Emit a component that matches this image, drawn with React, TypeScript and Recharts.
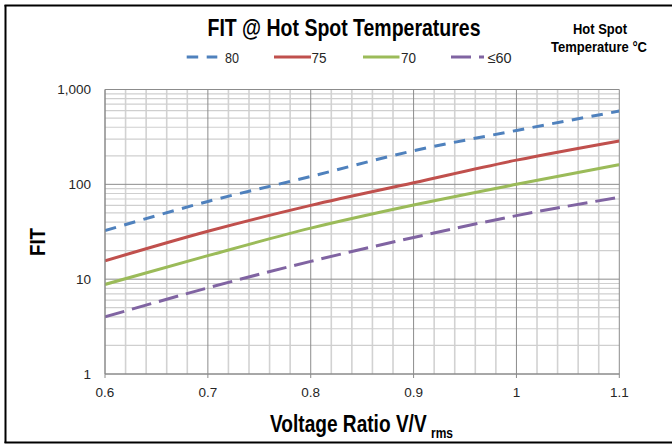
import React from 'react';
import { LineChart, Line, XAxis, YAxis, ReferenceLine } from 'recharts';

// Voltage ratio V/Vrms (x) and FIT values
const voltageRatio = [0.6, 0.7, 0.8, 0.9, 1.0, 1.1];
const fit80 = [32.5, 66, 121, 226, 370, 592];
const fit75 = [15.6, 32, 60, 104, 180, 287];
const fit70 = [8.8, 17.7, 34.5, 60.5, 100, 161];
const fit60 = [4.0, 8.1, 15.4, 27.5, 46.8, 73];

const xTicks = [0.6, 0.7, 0.8, 0.9, 1.0, 1.1];
const xMinorGrid = [0.62, 0.64, 0.66, 0.68, 0.72, 0.74, 0.76, 0.78, 0.82, 0.84, 0.86, 0.88, 0.92, 0.94, 0.96, 0.98, 1.02, 1.04, 1.06, 1.08];
const yTicks = [1, 10, 100, 1000];
const yMinorGrid = [2, 3, 4, 5, 6, 7, 8, 9, 20, 30, 40, 50, 60, 70, 80, 90, 200, 300, 400, 500, 600, 700, 800, 900];

const seriesNames = ['80', '75', '70', '≤60'];
const seriesKeys = ['t80', 't75', 't70', 't60'];
const seriesColors = ['#4f81bd', '#c0504d', '#9bbb59', '#8064a2'];
const seriesDash = ['11.5 8.5', undefined, undefined, '20 8'];

const data = voltageRatio.map((v, i) => ({
  v,
  t80: fit80[i],
  t75: fit75[i],
  t70: fit70[i],
  t60: fit60[i],
}));

const FONT = '"Liberation Sans", Arial, sans-serif';

const fmtY = (n: number) => n.toLocaleString('en-US');
const fmtX = (n: number) => String(n);

const legendPos = [
  { line: [186.7, 217.3], text: 225, w: 14 },
  { line: [274, 311], text: 311.5, w: 15 },
  { line: [363, 399.5], text: 401, w: 15 },
  { line: [451, 484], text: 487.5, w: 24 },
];

export default function App() {
  return (
    <div style={{ position: 'fixed', left: 0, top: 0, width: 672, height: 445, background: '#fff' }}>
      <LineChart
        width={672}
        height={445}
        data={data}
        margin={{ top: 89.5, right: 52.7, bottom: 41, left: 45 }}
      >
        <XAxis
          dataKey="v"
          type="number"
          domain={[0.6, 1.1]}
          ticks={xTicks}
          tickFormatter={fmtX}
          height={30}
          axisLine={{ stroke: '#8a8a8a' }}
          tickLine={{ stroke: '#8a8a8a' }}
          tickSize={4}
          tickMargin={9}
          tick={{ fill: '#262626', fontSize: 13.5, fontFamily: FONT }}
          allowDataOverflow
        />
        <YAxis
          type="number"
          scale="log"
          domain={[1, 1000]}
          ticks={yTicks}
          tickFormatter={fmtY}
          width={60}
          axisLine={{ stroke: '#8a8a8a' }}
          tickLine={false}
          tickSize={4}
          tickMargin={10}
          tick={{ fill: '#262626', fontSize: 13.5, fontFamily: FONT }}
          allowDataOverflow
        />
        {xMinorGrid.map((x) => (
          <ReferenceLine key={'mx' + x} x={x} stroke="#d2d2d2" strokeWidth={1.6} />
        ))}
        {yMinorGrid.map((y) => (
          <ReferenceLine key={'my' + y} y={y} stroke="#cfcfcf" strokeWidth={1.2} />
        ))}
        {xTicks.map((x) => (
          <ReferenceLine key={'Mx' + x} x={x} stroke="#8c8c8c" strokeWidth={1} />
        ))}
        {yTicks.map((y) => (
          <ReferenceLine key={'My' + y} y={y} stroke="#8c8c8c" strokeWidth={1} />
        ))}
        {seriesKeys.map((k, i) => (
          <Line
            key={k}
            dataKey={k}
            name={seriesNames[i]}
            type="monotone"
            stroke={seriesColors[i]}
            strokeWidth={3}
            strokeDasharray={seriesDash[i]}
            dot={false}
            activeDot={false}
            isAnimationActive={false}
          />
        ))}
      </LineChart>
      <svg
        width={672}
        height={445}
        style={{ position: 'absolute', left: 0, top: 0, pointerEvents: 'none' }}
      >
        <line x1={5.5} y1={5} x2={5.5} y2={443} stroke="#000" strokeWidth={2} />
        <line x1={4.5} y1={5.5} x2={672} y2={5.5} stroke="#000" strokeWidth={2} />
        <line x1={4.5} y1={442.5} x2={672} y2={442.5} stroke="#000" strokeWidth={2} />
        <text transform="translate(207.5,36) scale(1,1.2)" x={0} y={0} fontFamily={FONT} fontWeight="bold" fontSize={19.5} fill="#000">
          FIT @ Hot Spot Temperatures
        </text>
        <text transform="translate(573,34) scale(1,1.2)" x={0} y={0} textLength={54} lengthAdjust="spacingAndGlyphs" fontFamily={FONT} fontWeight="bold" fontSize={12.5} fill="#000">
          Hot Spot
        </text>
        <text transform="translate(551,52) scale(1,1.2)" x={0} y={0} textLength={96} lengthAdjust="spacingAndGlyphs" fontFamily={FONT} fontWeight="bold" fontSize={12.8} fill="#000">
          Temperature °C
        </text>
        {seriesNames.map((n, i) => (
          <g key={n}>
            <line
              x1={legendPos[i].line[0]}
              y1={57}
              x2={legendPos[i].line[1]}
              y2={57}
              stroke={seriesColors[i]}
              strokeWidth={3}
              strokeDasharray={seriesDash[i]}
            />
            <text x={legendPos[i].text} y={62.5} textLength={legendPos[i].w} lengthAdjust="spacingAndGlyphs" fontFamily={FONT} fontSize={15} fill="#262626">
              {n}
            </text>
          </g>
        ))}
        <text
          transform="translate(45,228) rotate(-90) scale(1,1.2)"
          x={-28}
          y={0}
          textLength={28}
          lengthAdjust="spacingAndGlyphs"
          fontFamily={FONT}
          fontWeight="bold"
          fontSize={18.7}
          fill="#000"
        >
          FIT
        </text>
        <text transform="translate(270,432) scale(1,1.22)" x={0} y={0} fontFamily={FONT} fontWeight="bold" fontSize={19.1} fill="#000">
          Voltage Ratio V/V
        </text>
        <text transform="translate(431,438) scale(1,1.22)" x={0} y={0} fontFamily={FONT} fontWeight="bold" fontSize={12} fill="#000">
          rms
        </text>
      </svg>
    </div>
  );
}
